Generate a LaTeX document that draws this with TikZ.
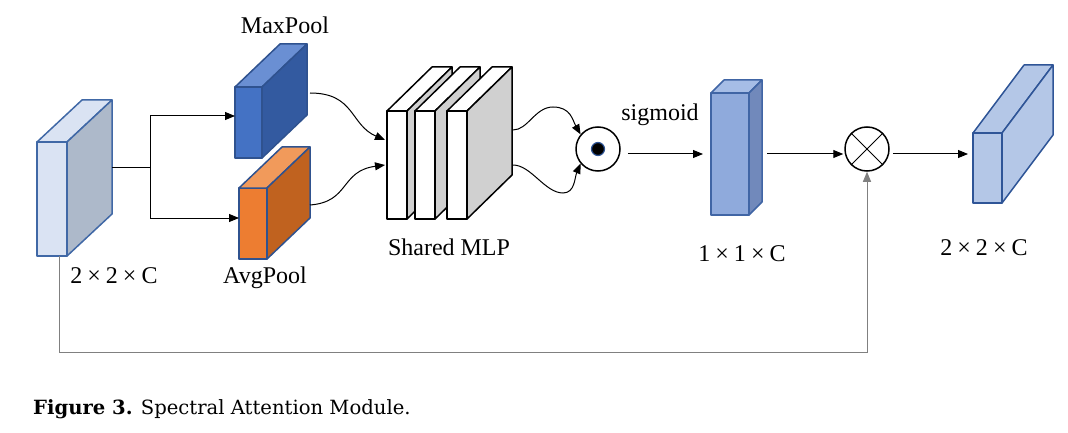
\documentclass[tikz,border=0pt]{standalone}
\usepackage{fontspec}
\setmainfont{Liberation Serif}
\newfontfamily\capfont{DejaVu Serif}
\usetikzlibrary{arrows.meta,calc}
\definecolor{inf}{HTML}{DAE3F3}\definecolor{int}{HTML}{DAE3F3}\definecolor{ins}{HTML}{ADB9CA}\definecolor{inbd}{HTML}{4068A6}
\definecolor{mxf}{HTML}{4472C4}\definecolor{mxt}{HTML}{6A8FD3}\definecolor{mxs}{HTML}{335AA0}\definecolor{mxbd}{HTML}{2F528F}
\definecolor{avf}{HTML}{ED7D31}\definecolor{avt}{HTML}{F19A5B}\definecolor{avs}{HTML}{C0621F}\definecolor{avbd}{HTML}{2F528F}
\definecolor{cif}{HTML}{8FAADC}\definecolor{cit}{HTML}{A6BDE6}\definecolor{cis}{HTML}{7189BB}\definecolor{cibd}{HTML}{4065A5}
\definecolor{ouf}{HTML}{B4C7E7}\definecolor{out}{HTML}{B4C7E7}\definecolor{ous}{HTML}{B4C7E7}\definecolor{oubd}{HTML}{2F5597}
\definecolor{mlf}{HTML}{FFFFFF}\definecolor{mlt}{HTML}{FFFFFF}\definecolor{mls}{HTML}{D0D0D0}\definecolor{mlbd}{HTML}{000000}
\definecolor{dotblue}{HTML}{2F5597}
\definecolor{fbgray}{HTML}{808080}
\newcommand\X{\kern5pt×\kern5pt}
\newcommand\cuboid[8]{%
  \node[draw=#8bd, fill=#8f, face, minimum width=#4pt, minimum height=#5pt, inner sep=0pt, outer sep=0pt, anchor=north west] (#1) at (#2,#3) {};
  \filldraw[fill=#8t, draw=#8bd, face] (#1.north west) -- ++(#6,#7) -- ++(#4,0) -- (#1.north east) -- cycle;
  \filldraw[fill=#8s, draw=#8bd, face] (#1.north east) -- ++(#6,#7) -- ++(0,#5) -- (#1.south east) -- cycle;
}
\begin{document}
\begin{tikzpicture}[x=1pt,y=-1pt,
  face/.style={line width=1.5pt, line join=round},
  arr/.style={-{Triangle[length=10pt,width=8pt]}, line width=1pt, black},
  conn/.style={line width=1pt, black},
  lbl/.style={inner sep=0pt, anchor=base, font=\fontsize{24}{28}\selectfont}]
\path[use as bounding box, fill=white] (0,0) rectangle (1068,433);
% blocks
\cuboid{in}{37}{142}{30}{114}{45}{-42}{in}
\cuboid{max}{235}{87}{27}{71}{45}{-43}{mx}
\cuboid{avg}{239}{188}{28}{71}{43}{-41}{av}
\cuboid{s1}{387}{111}{20}{108}{45}{-44}{ml}
\cuboid{s2}{415}{111}{20}{108}{45}{-44}{ml}
\cuboid{s3}{447}{111}{20}{108}{45}{-44}{ml}
\cuboid{c1}{711}{93}{38}{122}{13}{-13}{ci}
\cuboid{ob}{973}{133}{29}{70}{51}{-68}{ou}
% operators
\node[circle, draw, line width=1.5pt, minimum size=44pt, inner sep=0pt] (od) at (598,149) {};
\node[circle, fill=black, draw=dotblue, line width=1.2pt, minimum size=13pt, inner sep=0pt] (dot) at (od) {};
\node[circle, draw, line width=1.5pt, minimum size=44pt, inner sep=0pt] (ot) at (867,149) {};
\draw[line width=1pt] (ot.north west) -- (ot.south east) (ot.north east) -- (ot.south west);
% labels
\node[lbl] (lmax) at (285,34) {MaxPool};
\node[lbl] (lavg) at (265,283) {AvgPool};
\node[lbl] (lin) at (114,283) {2\X2\X C};
\node[lbl] (lmlp) at (449,255) {Shared MLP};
\node[lbl] (lsig) at (660,121) {sigmoid};
\node[lbl] (lc1) at (742,261) {1\X1\X C};
\node[lbl] (lout) at (984,255) {2\X2\X C};
\node[inner sep=0pt, anchor=base west, font=\capfont\fontsize{19.6}{23}\selectfont] (cap) at (33,414) {\textbf{Figure 3.} Spectral Attention Module.};
% connectors
\coordinate (ins) at (112,167);
\coordinate (split) at (150,167);
\draw[conn] (ins) -- (split);
\draw[arr] (split) |- ([yshift=6.5pt]max.west);
\draw[arr] (split) |- ([yshift=5.5pt]avg.west);
\coordinate (maxs) at (310,93);
\coordinate (avgs) at (310,205);
\draw[arr] (maxs) .. controls +(45,0) and +(-35,-15) .. ([shift={(-2,-25)}]s1.west);
\draw[arr] (avgs) .. controls +(40,-3) and +(-45,6) .. ([xshift=-2pt]s1.west);
\coordinate (mlpa) at (513,130);
\coordinate (mlpb) at (513,165);
\coordinate (hump) at (553,107);
\coordinate (dip) at (563,193);
\draw[arr] (mlpa) .. controls +(15,0) and +(-18,0) .. (hump) .. controls +(18,0) and +(-8,-14) .. (od.140);
\draw[arr] (mlpb) .. controls +(18,0) and +(-18,0) .. (dip) .. controls +(12,0) and +(-6,14) .. (od.220);
\draw[arr] ([shift={(7,5)}]od.east) -- ([xshift=-8pt]c1.west);
\coordinate (c1s) at (767,154);
\draw[arr] (c1s) -- ([xshift=-1pt]c1s -| ot.west);
\coordinate (outin) at (968,154);
\draw[arr] ([shift={(3,5)}]ot.east) -- (outin);
\coordinate (fb) at (59,256);
\coordinate (fbc) at (59,352);
\draw[arr, draw=fbgray] (fb) -- (fbc) -| (ot.south);
\end{tikzpicture}
\end{document}
